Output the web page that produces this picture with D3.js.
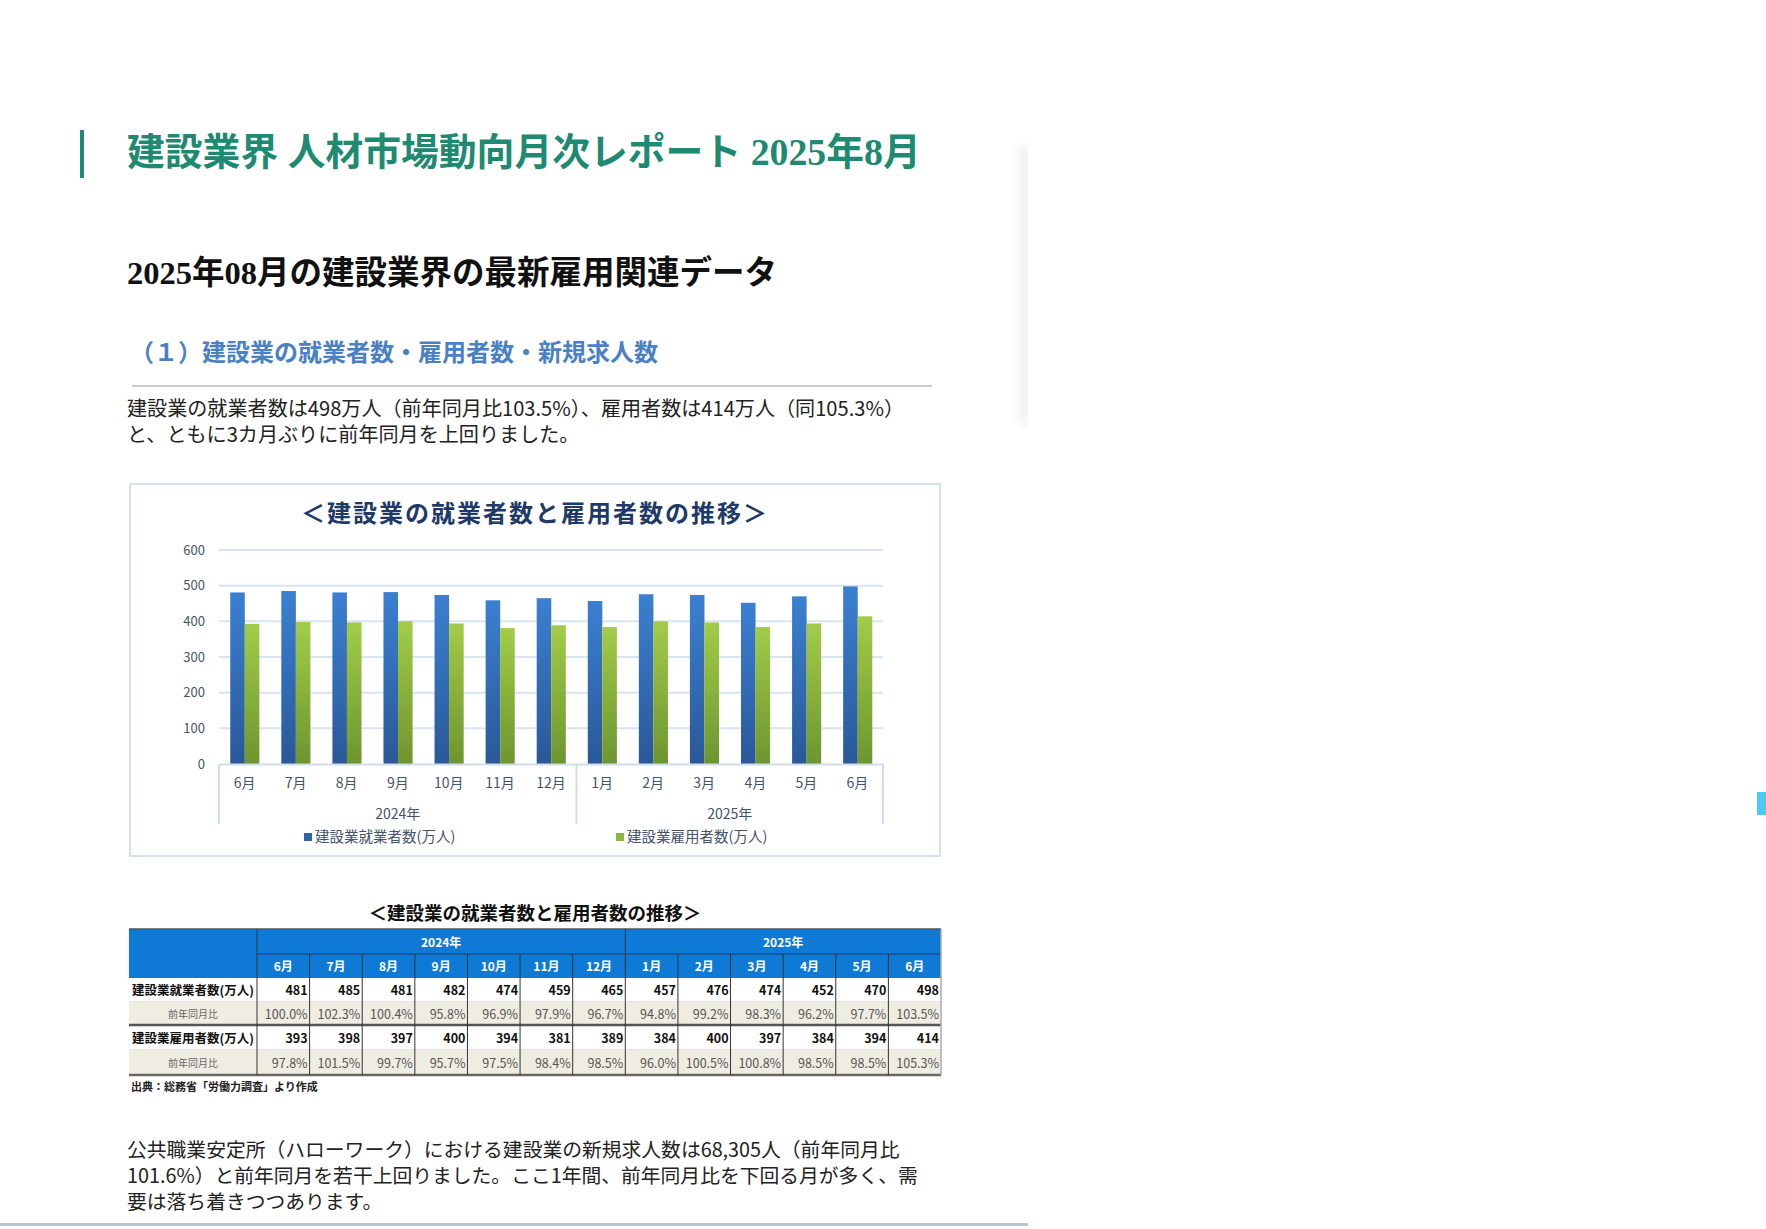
<!DOCTYPE html>
<html lang="ja">
<head>
<meta charset="utf-8">
<script src="https://cdn.jsdelivr.net/npm/d3@7"></script>
<style>
  html, body { margin: 0; padding: 0; background: #fff; }
  svg { display: block; }
</style>
</head>
<body>
<div id="main"></div>
<script>
(function(){

  // data
  const months = ["6月","7月","8月","9月","10月","11月","12月","1月","2月","3月","4月","5月","6月"]
  const years = [
    { label: "2024年", from: 0, to: 6 },
    { label: "2025年", from: 7, to: 12 }
  ]
  const employed = [481, 485, 481, 482, 474, 459, 465, 457, 476, 474, 452, 470, 498]
  const employedYoY = ["100.0%","102.3%","100.4%","95.8%","96.9%","97.9%","96.7%","94.8%","99.2%","98.3%","96.2%","97.7%","103.5%"]
  const employees = [393, 398, 397, 400, 394, 381, 389, 384, 400, 397, 384, 394, 414]
  const employeesYoY = ["97.8%","101.5%","99.7%","95.7%","97.5%","98.4%","98.5%","96.0%","100.5%","100.8%","98.5%","98.5%","105.3%"]
  const yTicks = [0, 100, 200, 300, 400, 500, 600]
  const seriesNames = ["建設業就業者数(万人)", "建設業雇用者数(万人)"]

  const width = 1766
  const height = 1229
  const sans = '"Noto Sans CJK JP", "Noto Sans", sans-serif'
  const serifMix = '"Liberation Serif", "Noto Sans CJK JP", serif'

  const svg = d3.select("#main").append("svg")
    .attr("width", width)
    .attr("height", height)

  const defs = svg.append("defs")
  const grad = (id, top, bottom) => {
    const g = defs.append("linearGradient").attr("id", id)
      .attr("x1", 0).attr("y1", 0).attr("x2", 0).attr("y2", 1)
    g.append("stop").attr("offset", "0%").attr("stop-color", top)
    g.append("stop").attr("offset", "100%").attr("stop-color", bottom)
  }
  grad("gBlue", "#3b80d2", "#2a5898")
  grad("gGreen", "#a2cc48", "#6e952e")
  const shadow = defs.append("linearGradient").attr("id", "gShadow")
    .attr("x1", 0).attr("y1", 0).attr("x2", 1).attr("y2", 0)
  shadow.append("stop").attr("offset", "0%").attr("stop-color", "#fff").attr("stop-opacity", 0)
  shadow.append("stop").attr("offset", "100%").attr("stop-color", "#e4e4e4")
  defs.append("filter").attr("id", "blur").append("feGaussianBlur").attr("stdDeviation", 4)

  // page decoration
  svg.append("rect").attr("x", 1012).attr("y", 145).attr("width", 16).attr("height", 280)
    .attr("fill", "url(#gShadow)").attr("filter", "url(#blur)")
  svg.append("rect").attr("x", 1028).attr("y", 120).attr("width", 40).attr("height", 330)
    .attr("fill", "#fff")
  svg.append("rect").attr("x", 0).attr("y", 1223).attr("width", 1028).attr("height", 3)
    .attr("fill", "#b4c6d8")
  svg.append("rect").attr("x", 1757).attr("y", 792).attr("width", 9).attr("height", 23)
    .attr("fill", "#4dc9f7")

  // headings
  svg.append("rect").attr("x", 80).attr("y", 130).attr("width", 4).attr("height", 48)
    .attr("fill", "#1e8a72")
  svg.append("text").attr("x", 127).attr("y", 165)
    .attr("font-family", serifMix).attr("font-weight", "bold").attr("font-size", 37.8)
    .attr("fill", "#1e8a72")
    .text("建設業界 人材市場動向月次レポート 2025年8月")

  svg.append("text").attr("x", 127).attr("y", 284)
    .attr("font-family", serifMix).attr("font-weight", "bold").attr("font-size", 32.5)
    .attr("fill", "#111")
    .text("2025年08月の建設業界の最新雇用関連データ")

  svg.append("text").attr("x", 130).attr("y", 361)
    .attr("font-family", sans).attr("font-weight", "bold").attr("font-size", 24)
    .attr("fill", "#4a80c4")
    .text("（１）建設業の就業者数・雇用者数・新規求人数")
  svg.append("line").attr("x1", 132).attr("x2", 932).attr("y1", 386).attr("y2", 386)
    .attr("stroke", "#999").attr("stroke-width", 1)

  const para = (lines, y0, size) => {
    const t = svg.append("text").attr("font-family", sans).attr("font-size", size)
      .attr("fill", "#222")
    lines.forEach((l, i) => t.append("tspan").attr("x", 127).attr("y", y0 + i * 26).text(l))
  }
  para(["建設業の就業者数は498万人（前年同月比103.5%）、雇用者数は414万人（同105.3%）",
        "と、ともに3カ月ぶりに前年同月を上回りました。"], 416, 20.1)
  para(["公共職業安定所（ハローワーク）における建設業の新規求人数は68,305人（前年同月比",
        "101.6%）と前年同月を若干上回りました。ここ1年間、前年同月比を下回る月が多く、需",
        "要は落ち着きつつあります。"], 1157, 19.8)

  // ---- chart ----
  svg.append("rect").attr("x", 130).attr("y", 484).attr("width", 810).attr("height", 372)
    .attr("fill", "#fff").attr("stroke", "#d3e1f0").attr("stroke-width", 2)

  svg.append("text").attr("x", 535).attr("y", 522).attr("text-anchor", "middle")
    .attr("font-family", sans).attr("font-weight", "bold").attr("font-size", 24)
    .attr("letter-spacing", 2).attr("fill", "#1f3a68")
    .text("＜建設業の就業者数と雇用者数の推移＞")

  const idx = months.map((m, i) => i)
  const xScale = d3.scaleBand().domain(idx).range([219, 883]).padding(0)
  const inner = d3.scaleBand().domain([0, 1])
    .range([xScale.bandwidth() * 0.22, xScale.bandwidth() * 0.79])
  const yScale = d3.scaleLinear().domain([0, 600]).range([764, 550])

  svg.append("g").selectAll("line").data(yTicks.filter(d => d > 0)).join("line")
    .attr("x1", 219).attr("x2", 883)
    .attr("y1", d => yScale(d)).attr("y2", d => yScale(d))
    .attr("stroke", "#d9e4f2").attr("stroke-width", 2)

  const yAxis = d3.axisLeft(yScale).tickValues(yTicks).tickSize(0).tickPadding(14)
  const gy = svg.append("g").attr("transform", "translate(219,0)").call(yAxis)
  gy.select(".domain").remove()
  gy.selectAll("text").attr("font-family", sans).attr("font-size", 13).attr("fill", "#44546a")

  const series = [employed, employees]
  const fills = ["url(#gBlue)", "url(#gGreen)"]
  series.forEach((vals, s) => {
    svg.append("g").selectAll("rect").data(vals).join("rect")
      .attr("x", (d, i) => xScale(i) + inner(s))
      .attr("width", inner.bandwidth())
      .attr("y", d => yScale(d))
      .attr("height", d => yScale(0) - yScale(d))
      .attr("fill", fills[s])
  })

  const xAxis = d3.axisBottom(xScale).tickSize(0).tickPadding(14).tickFormat(i => months[i])
  const gx = svg.append("g").attr("transform", "translate(0,764)").call(xAxis)
  gx.select(".domain").attr("stroke", "#d0ddee").attr("stroke-width", 2)
  gx.selectAll("text").attr("font-family", sans).attr("font-size", 14).attr("fill", "#44546a")

  // year group separators and labels
  const bounds = [xScale(years[0].from)].concat(years.map(y => xScale(y.to) + xScale.bandwidth()))
  svg.append("g").selectAll("line").data(bounds).join("line")
    .attr("x1", d => d).attr("x2", d => d).attr("y1", 764).attr("y2", 824)
    .attr("stroke", "#d0ddee").attr("stroke-width", 2)
  svg.append("g").selectAll("text").data(years).join("text")
    .attr("x", d => (xScale(d.from) + xScale(d.to) + xScale.bandwidth()) / 2)
    .attr("y", 819).attr("text-anchor", "middle")
    .attr("font-family", sans).attr("font-size", 14).attr("fill", "#44546a")
    .text(d => d.label)

  // legend
  const legendX = [304, 616]
  const legendColors = ["#2f64ad", "#8bb83c"]
  const lg = svg.append("g").selectAll("g").data(seriesNames).join("g")
    .attr("transform", (d, i) => `translate(${legendX[i]},837)`)
  lg.append("rect").attr("x", 0).attr("y", -4).attr("width", 8).attr("height", 8)
    .attr("fill", (d, i) => legendColors[i])
  lg.append("text").attr("x", 11).attr("y", 5)
    .attr("font-family", sans).attr("font-size", 14.5).attr("fill", "#44546a")
    .text(d => d)

  // ---- table ----
  svg.append("text").attr("x", 535).attr("y", 920).attr("text-anchor", "middle")
    .attr("font-family", sans).attr("font-weight", "bold").attr("font-size", 18.5)
    .attr("fill", "#111")
    .text("＜建設業の就業者数と雇用者数の推移＞")

  const tLeft = 129, tLabelRight = 257, tRight = 941
  const col = d3.scaleBand().domain(idx).range([tLabelRight, tRight])
  const rowY = [929, 954, 978, 1002, 1025, 1050, 1075]

  // header
  svg.append("rect").attr("x", tLeft).attr("y", rowY[0]).attr("width", tRight - tLeft)
    .attr("height", rowY[2] - rowY[0]).attr("fill", "#0f7ad5")
  svg.append("line").attr("x1", tLeft).attr("x2", tRight).attr("y1", rowY[0]).attr("y2", rowY[0])
    .attr("stroke", "#555").attr("stroke-width", 1.5)
  svg.append("line").attr("x1", tLabelRight).attr("x2", tRight).attr("y1", rowY[1]).attr("y2", rowY[1])
    .attr("stroke", "#1a3f6a").attr("stroke-width", 1)
  svg.append("g").selectAll("text").data(years).join("text")
    .attr("x", d => (col(d.from) + col(d.to) + col.bandwidth()) / 2)
    .attr("y", (rowY[0] + rowY[1]) / 2 + 5).attr("text-anchor", "middle")
    .attr("font-family", sans).attr("font-weight", "bold").attr("font-size", 12).attr("fill", "#fff")
    .text(d => d.label)
  svg.append("g").selectAll("text").data(idx).join("text")
    .attr("x", i => col(i) + col.bandwidth() / 2)
    .attr("y", (rowY[1] + rowY[2]) / 2 + 5).attr("text-anchor", "middle")
    .attr("font-family", sans).attr("font-weight", "bold").attr("font-size", 12).attr("fill", "#fff")
    .text(i => months[i])

  // body rows
  const rows = [
    { label: seriesNames[0], vals: employed, pct: false },
    { label: "前年同月比", vals: employedYoY, pct: true },
    { label: seriesNames[1], vals: employees, pct: false },
    { label: "前年同月比", vals: employeesYoY, pct: true }
  ]
  rows.forEach((r, k) => {
    const y0 = rowY[k + 2], y1 = rowY[k + 3]
    svg.append("rect").attr("x", tLeft).attr("y", y0).attr("width", tRight - tLeft)
      .attr("height", y1 - y0).attr("fill", r.pct ? "#efece2" : "#fff")
    svg.append("text")
      .attr("x", r.pct ? (tLeft + tLabelRight) / 2 : tLeft + 3)
      .attr("y", (y0 + y1) / 2 + (r.pct ? 4 : 5))
      .attr("text-anchor", r.pct ? "middle" : "start")
      .attr("font-family", sans).attr("font-weight", r.pct ? "normal" : "bold")
      .attr("font-size", r.pct ? 10 : 12.5).attr("fill", r.pct ? "#666" : "#111")
      .text(r.label)
    svg.append("g").selectAll("text").data(r.vals).join("text")
      .attr("x", (d, i) => col(i) + col.bandwidth() - 2)
      .attr("y", (y0 + y1) / 2 + 5).attr("text-anchor", "end")
      .attr("font-family", sans).attr("font-weight", r.pct ? "normal" : "bold")
      .attr("font-size", 12.5).attr("fill", r.pct ? "#555" : "#111")
      .text(d => d)
    if (!r.pct) {
      svg.append("line").attr("x1", tLeft).attr("x2", tRight).attr("y1", y1).attr("y2", y1)
        .attr("stroke", "#999").attr("stroke-width", 1).attr("stroke-dasharray", "1,1")
    }
  })
  svg.append("line").attr("x1", tLeft).attr("x2", tRight).attr("y1", rowY[4]).attr("y2", rowY[4])
    .attr("stroke", "#555").attr("stroke-width", 2.5)
  svg.append("line").attr("x1", tLeft).attr("x2", tRight).attr("y1", rowY[6]).attr("y2", rowY[6])
    .attr("stroke", "#666").attr("stroke-width", 2.5)

  // vertical cell lines
  const vlines = [tLabelRight].concat(idx.slice(1).map(i => col(i)))
  svg.append("g").selectAll("line").data(vlines).join("line")
    .attr("x1", d => d).attr("x2", d => d)
    .attr("y1", (d, i) => (i === 0 || i === years[1].from) ? rowY[0] : rowY[1])
    .attr("y2", rowY[6])
    .attr("stroke", "#333").attr("stroke-width", 1)
  svg.append("line").attr("x1", tRight).attr("x2", tRight).attr("y1", rowY[0]).attr("y2", rowY[6])
    .attr("stroke", "#aaa").attr("stroke-width", 1.5)

  svg.append("text").attr("x", 131).attr("y", 1091)
    .attr("font-family", sans).attr("font-weight", "bold").attr("font-size", 11).attr("fill", "#222")
    .text("出典：総務省「労働力調査」より作成")

}())
</script>
</body>
</html>
